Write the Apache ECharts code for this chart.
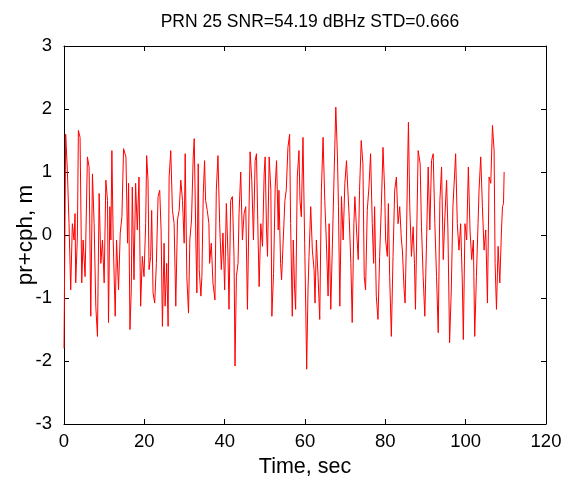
<!DOCTYPE html>
<html><head><meta charset="utf-8">
<script src="https://cdn.jsdelivr.net/npm/echarts@6/dist/echarts.min.js"></script>
<style>html,body{margin:0;padding:0;background:#fff}#c{width:578px;height:481px}</style>
</head><body><div id="c"></div>
<script>
const titleText = 'PRN 25 SNR=54.19 dBHz STD=0.666';
const xName = 'Time, sec';
const yName = 'pr+cph, m';
const times = [
0,0.42,0.83,1.25,1.67,2.08,2.5,2.75,2.92,3.33,3.58,4.0,4.42,4.75,5.25,5.83,6.25,6.67,7.08,7.5,7.92,8.33,8.75,9.17,9.58,10.0,10.42,10.83,11.08,11.42,11.67,11.92,12.25,12.75,13.08,13.58,14.0,14.42,14.83,15.42,15.83,16.08,16.42,16.75,
17.0,17.42,17.83,18.25,18.67,19.08,19.5,19.92,20.33,20.58,20.92,21.17,21.58,21.83,22.17,22.58,23.0,23.42,23.83,24.17,24.5,24.92,25.17,25.58,25.92,26.17,26.58,27.0,27.42,27.83,28.25,28.67,29.08,29.5,29.92,30.17,30.58,31.0,31.33,31.75,32.17,32.42,32.83,33.08,33.42,33.67,34.08,34.33,34.67,35.0,
35.25,35.67,36.08,36.25,36.67,37.08,37.58,37.92,38.33,38.75,39.17,39.58,40.0,40.42,40.83,41.08,41.5,41.92,42.33,42.58,42.92,43.33,43.58,44.0,44.42,44.83,45.25,45.67,46.08,46.33,46.75,47.17,47.58,47.92,48.33,48.58,49.0,49.42,49.83,50.08,50.42,50.67,51.08,51.5,51.75,52.17,52.58,52.92,53.33,
53.5,53.92,54.17,54.58,55.0,55.33,55.75,56.17,56.42,56.83,57.08,57.42,57.67,58.08,58.5,58.75,59.08,59.5,59.92,60.17,60.42,60.75,61.0,61.42,61.83,62.25,62.5,62.83,63.25,63.67,64.08,64.5,64.92,65.33,65.75,66.0,66.42,66.83,67.25,67.67,68.08,68.33,68.67,69.08,69.5,69.92,70.33,70.67,71.0,71.42,
71.75,72.17,72.42,72.83,73.25,73.58,74.0,74.42,74.75,75.08,75.5,75.92,76.33,76.75,77.08,77.33,77.75,78.17,78.58,79.0,79.42,79.83,80.08,80.5,80.75,81.08,81.5,81.92,82.33,82.75,83.17,83.58,84.0,84.25,84.67,84.92,85.25,85.5,85.75,86.08,86.5,86.92,87.25,87.5,87.83,88.17,88.67,89.0,89.42,89.83,
90.25,90.67,91.08,91.5,91.92,92.33,92.75,93.17,93.58,94.0,94.42,94.83,95.25,95.58,96.0,96.42,96.83,97.25,97.5,97.92,98.33,98.75,99.17,99.42,99.83,100.25,100.67,101.08,101.5,101.92,102.25,102.67,103.08,103.33,103.75,104.17,104.58,105.0,105.42,105.83,106.25,106.67,107.08,107.33,107.67,108.08,108.5,108.92,109.17,109.42,109.58
];
const values = [
-1.8,1.6,1.03,0.18,-0.87,0.18,-0.08,0.34,-0.76,-0.03,1.66,1.55,-0.76,-0.08,-0.66,1.24,1.08,-1.29,0.97,0.18,-1.13,-1.61,0.66,-0.45,-0.08,-0.76,0.87,0.55,-1.39,0.45,-0.08,1.34,-0.08,-1.29,-0.08,-0.87,0.03,0.29,1.37,1.24,-0.13,0.82,-1.5,-0.87,
0.76,-0.71,0.82,0.08,0.92,-1.13,-0.34,-0.66,0.18,1.26,0.87,-0.55,-0.34,0.39,-0.92,-1.08,-0.45,0.61,0.71,0.08,-1.45,-0.13,-1.13,-0.45,-1.45,0.92,1.34,0.39,0.18,-1.13,0.24,0.39,0.87,0.55,-0.13,1.29,-0.66,-1.24,-0.08,0.24,1.24,1.53,-0.08,-0.92,1.13,-0.55,-0.97,-0.66,0.66,1.18,
0.55,0.39,0.18,-0.45,-0.13,-0.76,-1.03,0.71,1.26,0.18,-0.55,0.03,-0.87,0.5,-0.34,-1.18,0.55,0.61,-0.34,-2.08,-0.66,-0.45,0.34,1.0,-0.08,0.34,0.45,-1.18,0.45,1.32,0.87,-0.08,1.18,1.29,-0.08,-0.82,0.18,-0.18,0.97,1.24,0.08,-0.34,1.24,0.71,-1.29,-0.61,0.76,1.18,0.08,
0.71,-0.45,-0.71,-0.08,0.55,0.71,1.39,1.6,0.18,-1.29,-0.08,-0.87,-1.18,0.92,1.34,0.55,0.29,1.55,-0.13,-1.08,-2.13,-0.87,-0.34,0.45,-0.24,-0.55,-1.08,-0.08,-0.66,-1.34,0.71,1.55,0.55,-0.13,-0.97,0.18,-1.18,-0.13,0.97,2.03,1.24,0.45,-1.13,0.61,-0.08,0.82,1.18,0.71,0.29,-0.45,
-1.39,0.18,0.61,0.08,-0.39,0.71,1.5,1.13,-0.66,-0.87,0.39,0.76,1.29,0.18,-0.45,0.45,-0.97,-1.34,-0.34,0.45,1.39,0.71,-0.08,-0.34,0.5,-0.66,-1.61,-0.34,0.71,0.92,0.18,0.45,-0.08,-0.24,-0.87,-1.08,-0.08,0.92,1.79,0.45,-0.34,0.13,-0.45,-1.18,0.08,1.34,1.13,0.13,-0.66,-1.29,
-0.13,1.08,0.08,1.18,1.29,0.18,-0.66,-1.55,0.55,1.08,-0.39,0.29,0.87,0.08,-1.71,-0.87,0.45,0.97,1.29,0.18,-0.24,0.18,-0.76,-1.66,0.18,-0.08,1.08,0.08,-0.39,-0.08,-1.61,-0.66,0.18,0.71,1.24,0.45,-0.24,0.08,-1.08,0.92,0.82,1.74,1.34,-0.45,-1.18,-0.18,-0.76,0.08,0.45,0.5,1.0
];
const xTicks = {min: 0, max: 120, interval: 20};
const yTicks = {min: -3, max: 3, interval: 1};

const chart = echarts.init(document.getElementById('c'), null, {renderer: 'canvas'});
const font = 'Liberation Sans, Arial, Helvetica, sans-serif';
const axisCommon = {
  axisLine: {show: true, onZero: false, lineStyle: {color: '#000', width: 1}},
  axisTick: {show: true, inside: true, length: 5, lineStyle: {color: '#000', width: 1}},
  splitLine: {show: false}
};
chart.setOption({
  animation: false,
  backgroundColor: '#fff',
  title: {
    text: titleText, left: 305, top: 8, textAlign: 'center',
    textStyle: {fontFamily: font, fontSize: 17.5, fontWeight: 'normal', color: '#000'}
  },
  grid: {left: 64, right: 32, top: 46, bottom: 57, containLabel: false, outerBoundsMode: 'none'},
  xAxis: [
    Object.assign({type: 'value', position: 'bottom', min: xTicks.min, max: xTicks.max, interval: xTicks.interval,
      name: xName, nameLocation: 'middle', nameGap: 32, nameMoveOverlap: false,
      nameTextStyle: {fontFamily: font, fontSize: 21.5, color: '#000'},
      axisLabel: {fontFamily: font, fontSize: 18.5, color: '#000', margin: 8}}, axisCommon),
    Object.assign({type: 'value', position: 'top', min: xTicks.min, max: xTicks.max, interval: xTicks.interval,
      axisLabel: {show: false}}, axisCommon)
  ],
  yAxis: [
    Object.assign({type: 'value', position: 'left', min: yTicks.min, max: yTicks.max, interval: yTicks.interval,
      name: yName, nameLocation: 'middle', nameGap: 27, nameRotate: 90, nameMoveOverlap: false,
      nameTextStyle: {fontFamily: font, fontSize: 22.5, color: '#000'},
      axisLabel: {fontFamily: font, fontSize: 18.5, color: '#000', margin: 12}}, axisCommon),
    Object.assign({type: 'value', position: 'right', min: yTicks.min, max: yTicks.max, interval: yTicks.interval,
      axisLabel: {show: false}}, axisCommon)
  ],
  series: [{
    type: 'line', xAxisIndex: 0, yAxisIndex: 0,
    data: times.map((t, i) => [t, values[i]]),
    showSymbol: false, symbol: 'none',
    lineStyle: {color: '#ff0000', width: 1},
    itemStyle: {color: '#ff0000'}
  }]
});
</script></body></html>
